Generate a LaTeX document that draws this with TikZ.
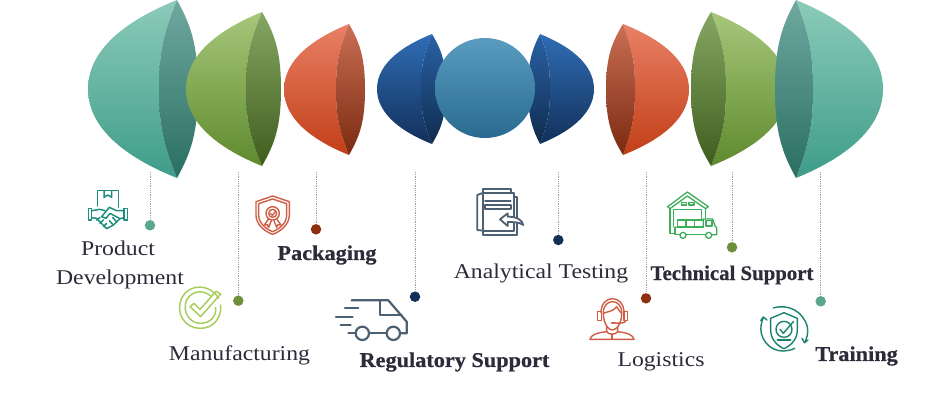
\documentclass[tikz,border=0pt]{standalone}
\usepackage{fontspec}
\setmainfont{Liberation Serif}
\newfontfamily\regf[FakeStretch=1.13]{Liberation Serif}
\newfontfamily\boldf[FakeStretch=1.06,FakeBold=0.6]{Liberation Serif Bold}
\newfontfamily\boldn[FakeStretch=1.0,FakeBold=0.6]{Liberation Serif Bold}
\definecolor{inkc}{HTML}{2B2B3A}
\definecolor{tealc}{HTML}{5BA68F}
\definecolor{greenc}{HTML}{6E8F3B}
\definecolor{redc}{HTML}{8F2F12}
\definecolor{navyc}{HTML}{12305A}
\definecolor{hteal}{HTML}{1F8F80}
\definecolor{hred}{HTML}{CF5E46}
\definecolor{hgrey}{HTML}{4D6072}
\definecolor{hgreen}{HTML}{3FAE5A}
\definecolor{hlime}{HTML}{A8CF5E}
\definecolor{hteald}{HTML}{1B8270}
\definecolor{tealT}{HTML}{8CCBB9}\definecolor{tealB}{HTML}{3E9C8A}\definecolor{tealL}{HTML}{6FA9A0}\definecolor{tealD}{HTML}{2A6E62}
\definecolor{limeT}{HTML}{A6C77A}\definecolor{limeB}{HTML}{5F8A2E}\definecolor{limeL}{HTML}{86A663}\definecolor{limeD}{HTML}{3F5E1E}
\definecolor{rustT}{HTML}{E98065}\definecolor{rustB}{HTML}{C23F18}\definecolor{rustL}{HTML}{C96F55}\definecolor{rustD}{HTML}{7A2A10}
\definecolor{blueT}{HTML}{2F6DB5}\definecolor{blueB}{HTML}{12305A}\definecolor{blueL}{HTML}{2A62A5}\definecolor{blueD}{HTML}{0F2B4E}
\definecolor{discT}{HTML}{5A9CC0}\definecolor{discB}{HTML}{2A6A90}
\tikzset{
  x=1pt,y=-1pt,
  reglabel/.style={inner sep=0pt,text=inkc,font=\regf\fontsize{21}{21}\selectfont},
  boldlabel/.style={inner sep=0pt,text=inkc,font=\boldf\fontsize{21}{21}\selectfont},
  boldnarrow/.style={inner sep=0pt,text=inkc,font=\boldn\fontsize{20.8}{21}\selectfont},
  dot/.style={circle,inner sep=0pt,minimum size=10.5pt},
  leader/.style={draw=gray!75,line width=0.9pt,dash pattern=on 0.9pt off 0.9pt},
  icon/.style={line width=1.9pt,line join=round,line cap=round,fill=none},
}
% \lens{apex x}{top}{bottom}{outer x}{far x}{inner x}{colour family}
\newcommand{\lens}[7]{%
  \pgfmathsetmacro{\xa}{#1}\pgfmathsetmacro{\yt}{#2}\pgfmathsetmacro{\yb}{#3}%
  \pgfmathsetmacro{\xo}{#4}\pgfmathsetmacro{\xf}{#5}\pgfmathsetmacro{\xin}{#6}%
  \pgfmathsetmacro{\h}{\yb-\yt}\pgfmathsetmacro{\ym}{(\yt+\yb)/2}%
  \pgfmathsetmacro{\cxo}{\xa+0.5*(\xo-\xa)}%
  \pgfmathsetmacro{\cxf}{\xa+0.65*(\xf-\xa)}%
  \pgfmathsetmacro{\cxi}{\xa+0.8*(\xin-\xa)}%
  \shade[top color=#7T,bottom color=#7B]
    (\xa,\yt) .. controls (\cxo,\yt+0.10*\h) and (\xo,\ym-0.24*\h) .. (\xo,\ym)
    .. controls (\xo,\ym+0.24*\h) and (\cxo,\yb-0.10*\h) .. (\xa,\yb)
    .. controls (\cxi,\yb-0.2*\h) and (\xin,\ym+0.2*\h) .. (\xin,\ym)
    .. controls (\xin,\ym-0.2*\h) and (\cxi,\yt+0.2*\h) .. (\xa,\yt) -- cycle;
  \shade[top color=#7L,bottom color=#7D]
    (\xa,\yt) .. controls (\cxf,\yt+0.14*\h) and (\xf,\ym-0.25*\h) .. (\xf,\ym)
    .. controls (\xf,\ym+0.25*\h) and (\cxf,\yb-0.14*\h) .. (\xa,\yb)
    .. controls (\cxi,\yb-0.2*\h) and (\xin,\ym+0.2*\h) .. (\xin,\ym)
    .. controls (\xin,\ym-0.2*\h) and (\cxi,\yt+0.2*\h) .. (\xa,\yt) -- cycle;
}
\begin{document}
\begin{tikzpicture}
\useasboundingbox (0,0) rectangle (950,400);
\fill[white] (0,0) rectangle (950,400);
% left lenses
\lens{177}{0}{178}{88}{198}{159}{teal}
\lens{262}{12}{166}{186}{281}{246}{lime}
\lens{349}{24}{155}{284}{365}{336}{rust}
\lens{432}{34}{144}{377}{446}{421}{blue}
% right lenses
\lens{540}{34}{144}{594}{528}{550}{blue}
\lens{623}{24}{155}{689}{606}{635}{rust}
\lens{711}{12}{166}{788}{691}{726}{lime}
\lens{796}{0}{178}{883}{775}{813}{teal}
% centre disc
\shade[top color=discT,bottom color=discB] (485,88) circle (50);
% connectors
\foreach \n/\x/\yy/\c in {a/150/225.3/tealc,b/238.3/300.7/greenc,c/316/229.3/redc,d/415/296.7/navyc,e/558.3/240/navyc,f/646/298.3/redc,g/732/247.3/greenc,h/820.7/301.3/tealc}{
  \node[dot,fill=\c] (dot\n) at (\x,\yy) {};
  \coordinate (top\n) at (\x,172);
  \draw[leader] (top\n) -- (dot\n);
}
% labels
\node[reglabel] (l1a) at (118,248.5) {Product};
\node[reglabel] (l1b) at (120,279) {Development};
\node[boldlabel] (l2) at (327,255) {Packaging};
\node[reglabel] (l3) at (239.5,355) {Manufacturing};
\node[boldlabel] (l4) at (454.5,362) {Regulatory Support};
\node[reglabel] (l5) at (541,273) {Analytical Testing};
\node[boldnarrow] (l6) at (732,275) {Technical Support};
\node[reglabel] (l7) at (661,361.5) {Logistics};
\node[boldlabel] (l8) at (856.5,356) {Training};
% icons in crop coordinates (left block)
\begin{scope}[shift={(50,170)},scale=1/3]
  % handshake
  \begin{scope}[icon,draw=hteal,line width=1.5pt]
    \draw (142,108) -- (142,62) -- (205,62) -- (205,112);
    \draw (162,62) -- (162,82) -- (173,75) -- (185,82) -- (185,62);
    \draw (115,115) rectangle (125,150);
    \draw (222,115) rectangle (232,150);
    \draw (125,122) -- (150,118) -- (165,122);
    \draw (125,143) -- (140,145) -- (170,176) -- (190,165) -- (210,146) -- (222,143);
    \draw (222,122) -- (200,122) -- (178,112) -- (155,140) -- (168,145) -- (180,130) -- (210,146);
    \draw (140,150) -- (150,142) (150,160) -- (160,150) (160,170) -- (170,160);
    \draw (190,165) -- (178,152) (200,156) -- (188,142);
  \end{scope}
  % award shield
  \begin{scope}[icon,draw=hred,line width=1.4pt]
    \draw (668,78) -- (718,95) -- (718,135) .. controls (718,165) and (690,185) .. (668,193)
       .. controls (646,185) and (618,165) .. (618,135) -- (618,95) -- cycle;
    \draw (668,87) -- (710,101) -- (710,135) .. controls (710,160) and (688,177) .. (668,185)
       .. controls (648,177) and (626,160) .. (626,135) -- (626,101) -- cycle;
    \draw (668,130) circle (20);
    \draw (668,130) circle (12);
    \draw (661,130) -- (667,136) -- (676,125);
    \draw (655,148) -- (643,165) -- (652,164) -- (656,172) -- (664,152);
    \draw (681,148) -- (693,165) -- (684,164) -- (680,172) -- (672,152);
  \end{scope}
  % check circle
  \begin{scope}[icon,draw=hlime,line width=1.5pt]
    \draw (506,385) .. controls (485,345) and (420,335) .. (395,385) .. controls (375,430) and (405,475) .. (450,475) .. controls (490,475) and (515,445) .. (512,405);
    \draw (482,378) .. controls (460,358) and (425,362) .. (410,390) .. controls (395,425) and (420,460) .. (450,460) .. controls (480,460) and (500,440) .. (497,412);
    \draw (420,410) -- (432,400) -- (450,418) -- (498,364) -- (512,372) -- (452,440) -- cycle;
  \end{scope}
  % van
  \begin{scope}[icon,draw=hgrey,line width=2.2pt]
    \draw (905,391) -- (1015,391) -- (1070,455) -- (1070,490) -- (1052,490);
    \draw (990,391) -- (990,436) -- (1055,436);
    \draw (937,490) circle (20);
    \draw (1030,490) circle (20);
    \draw (957,490) -- (1010,490);
    \draw (917,490) -- (895,490);
    \draw (885,415) -- (925,415);
    \draw (858,441) -- (908,441);
    \draw (872,465) -- (902,465);
  \end{scope}
\end{scope}
% icons in crop coordinates (right block)
\begin{scope}[shift={(440,170)},scale=1/3]
  % document
  \begin{scope}[icon,draw=hgrey,line width=1.8pt]
    \draw (130,68) -- (130,58) -- (212,58) -- (212,68);
    \draw (130,68) -- (112,75) -- (112,180) -- (130,182);
    \draw (130,68) -- (222,68) -- (222,182) -- (130,182) -- cycle;
    \draw (222,82) -- (232,82) -- (232,195) -- (130,195) -- (130,182);
    \draw (135,93) -- (212,93);
    \draw (135,105) rectangle (212,116);
    \draw[fill=white] (180,148) -- (203,130) -- (203,140) .. controls (232,140) and (246,150) .. (250,165)
       .. controls (238,156) and (220,156) .. (203,156) -- (203,168) -- cycle;
  \end{scope}
  % warehouse
  \begin{scope}[icon,draw=hgreen,line width=1.3pt]
    \draw (683,110) -- (742,66) -- (805,110) -- (797,116);
    \draw (683,110) -- (690,116) -- (742,78) -- (797,116);
    \draw (690,116) -- (690,190) -- (706,190);
    \draw (797,116) -- (797,145);
    \draw (700,118) -- (785,118) -- (785,148);
    \draw (700,118) -- (700,170);
    \draw (725,97) rectangle (740,105);
    \draw (747,97) rectangle (762,105);
    \draw (712,150) rectangle (738,171);
    \draw (738,150) rectangle (764,171);
    \draw (764,150) rectangle (790,171);
    \draw (705,172) -- (790,172) -- (790,147) -- (818,147) -- (826,170) -- (830,172) -- (830,194) -- (817,194);
    \draw (705,172) -- (705,194) -- (719,194);
    \draw (739,194) -- (796,194);
    \draw (729,196) circle (9);
    \draw (806,196) circle (9);
    \draw (798,152) rectangle (816,168);
  \end{scope}
  % headset agent
  \begin{scope}[icon,draw=hred,line width=1.4pt]
    \draw (483,428) .. controls (483,372) and (552,372) .. (552,428);
    \draw (490,428) .. controls (490,384) and (545,384) .. (545,428);
    \draw (473,425) rectangle (484,452);
    \draw (552,425) rectangle (562,452);
    \draw (490,430) .. controls (500,425) and (520,425) .. (530,410) .. controls (535,420) and (540,425) .. (545,430);
    \draw (490,430) .. controls (490,460) and (505,480) .. (517,480) .. controls (530,480) and (545,460) .. (545,430);
    \draw (557,452) .. controls (557,460) and (540,460) .. (525,459);
    \draw (515,459) -- (525,459);
    \draw (500,470) -- (500,485) .. controls (470,488) and (452,495) .. (450,508) -- (582,508)
       .. controls (580,495) and (562,488) .. (533,485) -- (533,470);
    \draw (500,485) .. controls (505,495) and (528,495) .. (533,485);
    \draw (516,492) -- (516,508);
  \end{scope}
  % shield with cycle
  \begin{scope}[icon,draw=hteald,line width=1.4pt]
    \draw (1000,414) .. controls (1045,400) and (1090,425) .. (1102,470) .. controls (1106,490) and (1100,505) .. (1094,518);
    \draw (1086,505) -- (1093,518) -- (1104,510);
    \draw (1064,535) .. controls (1020,556) and (975,535) .. (964,490) .. controls (960,470) and (965,455) .. (970,443);
    \draw (962,452) -- (970,441) -- (981,450);
    \draw (1032,428) -- (1072,445) -- (1072,480) .. controls (1072,510) and (1050,528) .. (1032,536)
       .. controls (1014,528) and (992,510) .. (992,480) -- (992,445) -- cycle;
    \draw (1032,478) circle (24);
    \draw (1020,478) -- (1030,490) -- (1060,455);
    \draw (1012,510) -- (1052,510);
  \end{scope}
\end{scope}
\end{tikzpicture}
\end{document}
